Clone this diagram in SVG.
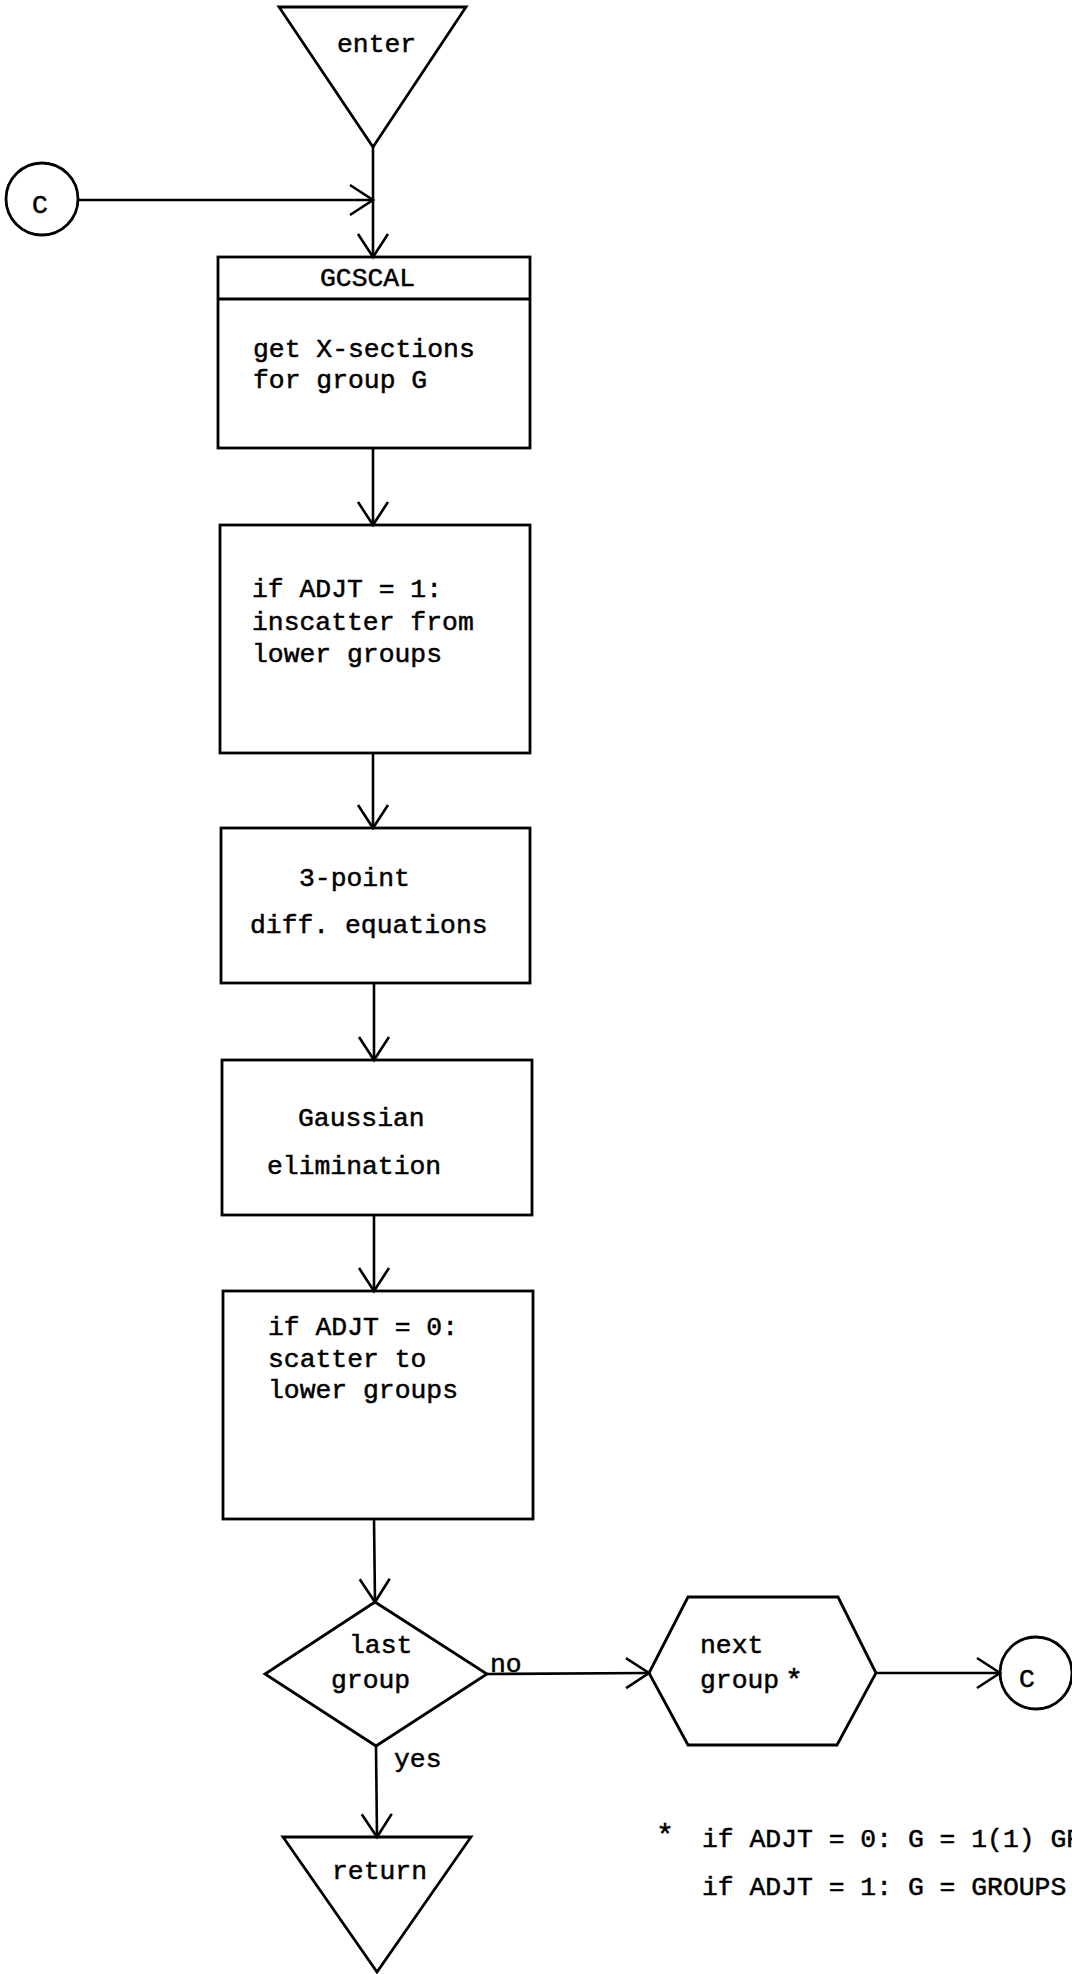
<svg xmlns="http://www.w3.org/2000/svg" width="1072" height="1974" viewBox="0 0 1072 1974">
  <style>
    .shape { fill: none; stroke: #000; stroke-width: 2.8; stroke-linejoin: miter; }
    .edge { fill: none; stroke: #000; stroke-width: 2.6; }
    text { font-family: "Liberation Mono", "DejaVu Sans Mono", monospace; font-size: 26.4px; fill: #000; stroke: #000; stroke-width: 0.5; }
  </style>
  <defs>
    <marker id="arrow" markerUnits="userSpaceOnUse" markerWidth="30" markerHeight="36" refX="25" refY="17" orient="auto">
      <path d="M2,2 L25,17 L2,32" fill="none" stroke="#000" stroke-width="2.6"/>
    </marker>
  </defs>
  <rect width="1072" height="1974" fill="#fff"/>

  <!-- flow connectors -->
  <g id="connectors">
    <line class="edge" x1="79" y1="200" x2="373" y2="200" marker-end="url(#arrow)"/>
    <line class="edge" x1="373" y1="147" x2="373" y2="257" marker-end="url(#arrow)"/>
    <line class="edge" x1="373" y1="448" x2="373" y2="525" marker-end="url(#arrow)"/>
    <line class="edge" x1="373" y1="753" x2="373" y2="828" marker-end="url(#arrow)"/>
    <line class="edge" x1="374" y1="983" x2="374" y2="1060" marker-end="url(#arrow)"/>
    <line class="edge" x1="374" y1="1215" x2="374" y2="1291" marker-end="url(#arrow)"/>
    <line class="edge" x1="374" y1="1519" x2="375" y2="1602" marker-end="url(#arrow)"/>
    <line class="edge" x1="487" y1="1674" x2="649" y2="1673" marker-end="url(#arrow)"/>
    <line class="edge" x1="876" y1="1673" x2="1000" y2="1673" marker-end="url(#arrow)"/>
    <line class="edge" x1="376" y1="1746" x2="377" y2="1837" marker-end="url(#arrow)"/>
    <text x="490" y="1672">no</text>
    <text x="394" y="1767">yes</text>
  </g>

  <g id="enter">
    <polygon class="shape" points="279,7 466,7 373,147"/>
    <text x="337" y="52">enter</text>
  </g>

  <g id="connector-c-in">
    <circle class="shape" cx="42" cy="199" r="36"/>
    <text x="40" y="213" text-anchor="middle">C</text>
  </g>

  <g id="gcscal">
    <rect class="shape" x="218" y="257" width="312" height="191"/>
    <line class="shape" x1="218" y1="299" x2="530" y2="299"/>
    <text x="320" y="286">GCSCAL</text>
    <text x="253" y="357">get X-sections</text>
    <text x="253" y="388">for group G</text>
  </g>

  <g id="inscatter">
    <rect class="shape" x="220" y="525" width="310" height="228"/>
    <text x="252" y="597">if ADJT = 1:</text>
    <text x="252" y="630">inscatter from</text>
    <text x="252" y="662">lower groups</text>
  </g>

  <g id="diff-equations">
    <rect class="shape" x="221" y="828" width="309" height="155"/>
    <text x="299" y="886">3-point</text>
    <text x="250" y="933">diff. equations</text>
  </g>

  <g id="gaussian">
    <rect class="shape" x="222" y="1060" width="310" height="155"/>
    <text x="298" y="1126">Gaussian</text>
    <text x="267" y="1174">elimination</text>
  </g>

  <g id="scatter">
    <rect class="shape" x="223" y="1291" width="310" height="228"/>
    <text x="268" y="1335">if ADJT = 0:</text>
    <text x="268" y="1367">scatter to</text>
    <text x="268" y="1398">lower groups</text>
  </g>

  <g id="last-group">
    <polygon class="shape" points="375,1602 487,1674 376,1746 265,1674"/>
    <text x="349" y="1653">last</text>
    <text x="331" y="1688">group</text>
  </g>

  <g id="next-group">
    <polygon class="shape" points="649,1673 688,1597 838,1597 876,1673 837,1745 688,1745"/>
    <text x="700" y="1653">next</text>
    <text x="700" y="1688">group</text>
    <text x="785" y="1690" style="font-size:30px">*</text>
  </g>

  <g id="connector-c-out">
    <circle class="shape" cx="1036" cy="1673" r="36"/>
    <text x="1027" y="1687" text-anchor="middle">C</text>
  </g>

  <g id="return">
    <polygon class="shape" points="283,1837 471,1837 377,1972"/>
    <text x="332" y="1879">return</text>
  </g>

  <g id="footnote">
    <text x="656" y="1845" style="font-size:30px">*</text>
    <text x="702" y="1847">if ADJT = 0: G = 1(1) GROUPS</text>
    <text x="702" y="1895">if ADJT = 1: G = GROUPS</text>
  </g>
</svg>
